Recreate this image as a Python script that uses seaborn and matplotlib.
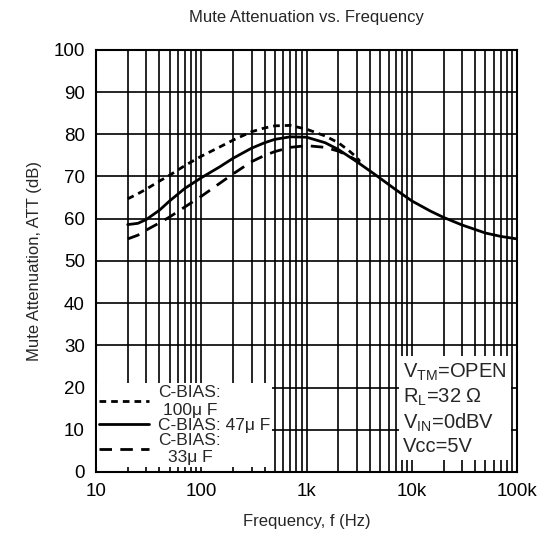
import numpy as np
import pandas as pd
import matplotlib.pyplot as plt
import seaborn as sns
from matplotlib.ticker import LogLocator, FixedLocator, NullFormatter

sns.set_style("white")
plt.rcParams['font.family'] = ['Liberation Sans', 'DejaVu Sans']
plt.rcParams['mathtext.fontset'] = 'custom'
plt.rcParams['mathtext.rm'] = 'Liberation Sans'

# data
freq_short = [20, 25, 30, 40, 50, 70, 100, 150, 200, 300, 400, 500, 700, 1000, 1500, 2000, 2500, 3000, 3200]
att_100uF = [64.7, 65.9, 67.0, 68.9, 70.3, 72.6, 74.8, 77.0, 78.6, 80.6, 81.5, 82.0, 82.1, 81.2, 79.6, 78.0, 76.2, 74.5, 73.6]
att_33uF = [55.2, 56.1, 57.3, 59.0, 60.4, 62.8, 65.3, 68.4, 70.6, 73.5, 75.0, 75.9, 76.9, 77.3, 76.9, 76.0, 74.9, 73.8, 73.2]

freq_long = [20, 25, 30, 40, 50, 70, 100, 150, 200, 300, 400, 500, 700, 1000, 1500, 2000,
             3000, 4500, 7000, 10000, 15000, 20000, 30000, 50000, 70000, 100000]
att_47uF = [58.6, 58.9, 59.8, 62.0, 64.2, 67.2, 69.7, 72.3, 74.3, 76.7, 78.0, 78.8, 79.4, 79.3,
            78.0, 76.4, 73.5, 70.4, 66.9, 64.2, 61.8, 60.3, 58.5, 56.6, 55.8, 55.2]

labels = ["C-BIAS:\n100\u03bc F", "C-BIAS: 47\u03bc F", "C-BIAS:\n33\u03bc F"]
x_ticks = [10, 100, 1000, 10000, 100000]
x_ticklabels = ["10", "100", "1k", "10k", "100k"]

fig = plt.figure(figsize=(5.47, 5.36), dpi=100)
ax = fig.add_axes([0.1755, 0.1195, 0.770, 0.7875])

sns.lineplot(x=freq_short, y=att_100uF, ax=ax, color='black', lw=2.0, label=labels[0])
ax.lines[-1].set_dashes([2.4, 1.8])
sns.lineplot(x=freq_long, y=att_47uF, ax=ax, color='black', lw=2.0, label=labels[1])
sns.lineplot(x=freq_short, y=att_33uF, ax=ax, color='black', lw=2.0, label=labels[2])
ax.lines[-1].set_dashes([4.5, 3.0])

ax.set_xscale('log')
ax.set_xlim(10, 100000)
ax.set_ylim(0, 100)
ax.xaxis.set_major_locator(FixedLocator(x_ticks))
ax.set_xticklabels(x_ticklabels)
ax.xaxis.set_minor_locator(LogLocator(base=10, subs=np.arange(2, 10)))
ax.xaxis.set_minor_formatter(NullFormatter())
ax.set_yticks(range(0, 101, 10))

ax.grid(True, which='major', color='black', lw=1.2)
ax.grid(True, which='minor', axis='x', color='black', lw=1.2)
for s in ax.spines.values():
    s.set_color('black')
    s.set_linewidth(1.5)
ax.tick_params(axis='both', which='both', direction='in', labelsize=13.5, colors='black')
ax.tick_params(axis='x', which='major', length=6, pad=8)
ax.tick_params(axis='x', which='minor', length=4)
ax.tick_params(axis='y', length=0, pad=8)

ax.set_xlabel("Frequency, f (Hz)", fontsize=12, labelpad=10)
ax.set_ylabel("Mute Attenuation, ATT (dB)", fontsize=12, labelpad=8)
ax.set_title("Mute Attenuation vs. Frequency", fontsize=12, pad=20)

leg = ax.legend(loc='lower left', bbox_to_anchor=(0.002, 0.012), fontsize=12.5,
                frameon=True, fancybox=False, framealpha=1, edgecolor='none',
                facecolor='white', handlelength=2.9, handletextpad=0.55, borderpad=0.1,
                labelspacing=0.0, borderaxespad=0.0)
for t in leg.get_texts():
    t.set_ha('center')
    t.set_multialignment('center')

note = ("V$_{\\mathrm{TM}}$=OPEN\n"
        "R$_{\\mathrm{L}}$=32 \u03a9\n"
        "V$_{\\mathrm{IN}}$=0dBV\n"
        "Vcc=5V")
ax.text(0.729, 0.038, note, transform=ax.transAxes, fontsize=14.5, va='bottom', ha='left',
        linespacing=1.22,
        bbox=dict(facecolor='white', edgecolor='none', boxstyle='square,pad=0.2'))

plt.savefig("out.png", dpi=100)
